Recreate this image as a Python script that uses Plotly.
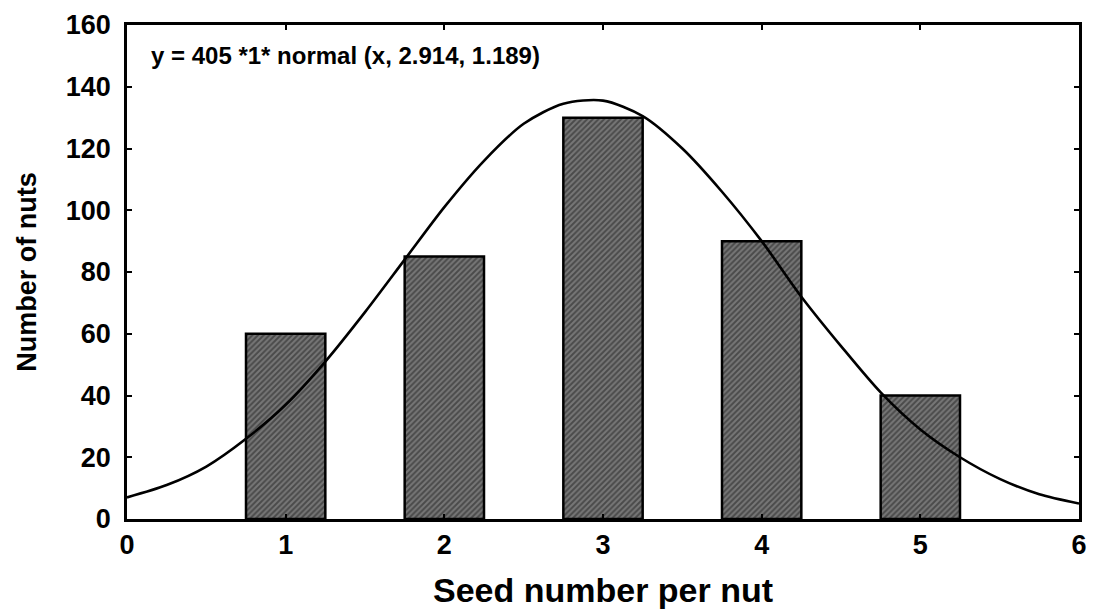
import plotly.graph_objects as go

# histogram of seed counts
seed_numbers = [1, 2, 3, 4, 5]
nut_counts = [60, 85, 130, 90, 40]

# fitted normal curve
curve_x = [0, 0.25, 0.5, 0.75, 1, 1.25, 1.5, 1.75, 2, 2.25, 2.5, 2.75,
           3, 3.25, 3.5, 3.75, 4, 4.25, 4.5, 4.75, 5, 5.25, 5.5, 5.75, 6]
curve_y = [7, 11, 17, 26, 37, 51, 67, 84, 101, 116, 128, 134.5,
           135.5, 130.5, 120, 106, 90, 72, 56, 41, 29, 20, 13, 8, 5]

fit_label = "y = 405 *1* normal (x, 2.914, 1.189)"
x_ticks = [0, 1, 2, 3, 4, 5, 6]
y_ticks = [0, 20, 40, 60, 80, 100, 120, 140, 160]

FONT = "Liberation Sans, Arial, sans-serif"

fig = go.Figure()

fig.add_trace(go.Bar(
    x=seed_numbers,
    y=nut_counts,
    width=0.5,
    marker=dict(
        color="#505050",
        line=dict(color="black", width=2.5),
        pattern=dict(shape="/", fgcolor="#1e1e1e", bgcolor="#777777",
                     size=4, solidity=0.5),
    ),
    showlegend=False,
))

fig.add_trace(go.Scatter(
    x=curve_x,
    y=curve_y,
    mode="lines",
    line=dict(color="black", width=2.6, shape="spline", smoothing=0.8),
    showlegend=False,
))

fig.add_annotation(
    x=0, y=1, xref="paper", yref="paper",
    xanchor="left", yanchor="middle",
    xshift=22, yshift=-30,
    text="<b>" + fit_label + "</b>",
    showarrow=False,
    font=dict(family=FONT, size=24, color="black"),
)

axis_common = dict(
    showline=True, linecolor="black", linewidth=2.5, mirror="ticks",
    ticks="inside", ticklen=5, tickwidth=2, tickcolor="black",
    showgrid=False, zeroline=False,
    tickfont=dict(family=FONT, size=27, color="black", weight="bold"),
)

fig.update_layout(
    width=1094, height=614,
    margin=dict(l=127, r=7, t=25, b=95),
    paper_bgcolor="white", plot_bgcolor="white",
    xaxis=dict(
        range=[0, 6], tickvals=x_ticks, ticklabelstandoff=0,
        ticklabeloverflow="allow",
        title=dict(text="<b>Seed number per nut</b>", standoff=20,
                   font=dict(family=FONT, size=34, color="black")),
        **axis_common,
    ),
    yaxis=dict(
        range=[0, 160], tickvals=y_ticks, ticklabelstandoff=8,
        title=dict(text="<b>Number of nuts</b>", standoff=22,
                   font=dict(family=FONT, size=27, color="black")),
        **axis_common,
    ),
    bargap=0.5,
)

# drop the default page margin so the 1094x614 figure fills the window exactly
fig.write_html(
    "out.html",
    config={"displayModeBar": False},
    post_script="document.body.style.margin='0';document.body.style.overflow='hidden';",
)
